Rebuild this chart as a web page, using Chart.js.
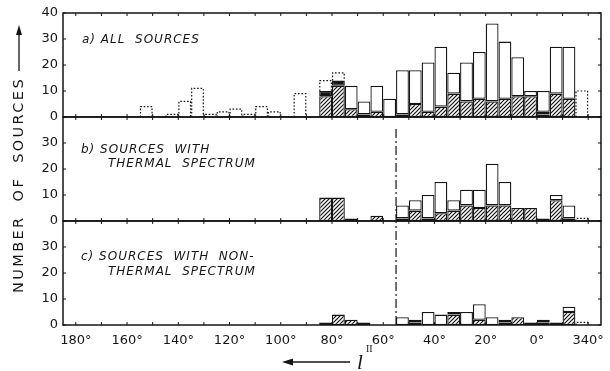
<!DOCTYPE html>
<html lang="en">
<head>
<meta charset="UTF-8">
<title>Number of sources against galactic longitude</title>
<script src="https://cdn.jsdelivr.net/npm/chart.js@4.4.1/dist/chart.umd.min.js"></script>
<style>
  html, body { margin: 0; padding: 0; background: #fff; }
</style>
</head>
<body>
<canvas id="chart" width="610" height="371"></canvas>
<script>
// 5 degree bins in galactic longitude, left edge of each bin (longitude falls to the right)
const binStarts = [185, 180, 175, 170, 165, 160, 155, 150, 145, 140, 135, 130, 125, 120,
                   115, 110, 105, 100, 95, 90, 85, 80, 75, 70, 65, 60, 55, 50, 45, 40,
                   35, 30, 25, 20, 15, 10, 5, 0, -5, -10, -15, -20];
// the two end values only pin the axis ends, they carry no label
const lonTicks = [185, 180, 160, 140, 120, 100, 80, 60, 40, 20, 0, -20, -25];
const lonTickLabels = ['', '180°', '160°', '140°', '120°', '100°', '80°', '60°', '40°', '20°', '0°', '340°', ''];
const countTicks = [0, 10, 20, 30, 40];

// a) all sources
const allTotal   = [0,0,0,0,0,0, 0,0,0,0,0,0, 0,0,0,0,0,0, 0,0,10,14,12,6, 12,7,18,18,21,27, 17,21,25,36,29,23, 10,10,27,27,0,0];
const allHatched = [0,0,0,0,0,0, 0,0,0,0,0,0, 0,0,0,0,0,0, 0,0,8,12,3,0,   2,0,0,5,2,4,      9,6,7,6,7,8,       8,1,9,7,0,0];
const allBlack   = [0,0,0,0,0,0, 0,0,0,0,0,0, 0,0,0,0,0,0, 0,0,2,2,0,1,    0,0,1,0,0,0,      0,0,0,0,0,0,       0,1,0,0,0,0];
const allDotted  = [0,0,0,0,0,0, 4,0,1,6,11,1, 2,3,1,4,2,0, 9,0,14,17,0,0, 0,0,0,0,0,0,      0,0,0,0,0,0,       0,0,0,0,10,0];

// b) sources with thermal spectrum
const thTotal    = [0,0,0,0,0,0, 0,0,0,0,0,0, 0,0,0,0,0,0, 0,0,9,9,1,0,    2,0,6,8,10,15,     8,12,12,22,15,5,   5,1,10,6,0,0];
const thHatched  = [0,0,0,0,0,0, 0,0,0,0,0,0, 0,0,0,0,0,0, 0,0,9,9,1,0,    2,0,1,4,1,3,       4,6,5,6,6,5,       5,0,8,1,0,0];
const thBlack    = [0,0,0,0,0,0, 0,0,0,0,0,0, 0,0,0,0,0,0, 0,0,0,0,0,0,    0,0,0,0,0,0,       0,0,0,0,0,0,       0,0,0,0,0,0];
const thDotted   = [0,0,0,0,0,0, 0,0,0,0,0,0, 0,0,0,0,0,0, 0,0,0,0,0,0,    0,0,0,0,0,0,       0,0,0,0,0,0,       0,0,0,0,1,0];

// c) sources with non-thermal spectrum
const ntTotal    = [0,0,0,0,0,0, 0,0,0,0,0,0, 0,0,0,0,0,0, 0,0,1,4,2,1,    0,0,3,2,5,4,       5,5,8,3,2,3,       1,2,1,7,0,0];
const ntHatched  = [0,0,0,0,0,0, 0,0,0,0,0,0, 0,0,0,0,0,0, 0,0,0,4,2,1,    0,0,0,0,0,0,       4,0,2,0,0,3,       0,1,1,5,0,0];
const ntBlack    = [0,0,0,0,0,0, 0,0,0,0,0,0, 0,0,0,0,0,0, 0,0,1,0,0,0,    0,0,0,1,0,0,       0,0,0,0,1,0,       1,0,0,0,0,0];
const ntDotted   = [0,0,0,0,0,0, 0,0,0,0,0,0, 0,0,0,0,0,0, 0,0,0,0,0,0,    0,0,0,0,0,0,       0,0,0,0,0,0,       0,0,0,0,1,0];

const ink = '#151515';
const canvas = document.getElementById('chart');
const ctx = canvas.getContext('2d');

// diagonal hatching "////"
const tile = document.createElement('canvas');
tile.width = 4; tile.height = 4;
const tg = tile.getContext('2d');
tg.fillStyle = '#fff';
tg.fillRect(0, 0, 4, 4);
tg.strokeStyle = '#111';
tg.lineWidth = 1.2;
tg.beginPath();
tg.moveTo(-1, 5); tg.lineTo(5, -1);
tg.moveTo(-1, 1); tg.lineTo(1, -1);
tg.moveTo(3, 5); tg.lineTo(5, 3);
tg.stroke();
const hatch = ctx.createPattern(tile, 'repeat');

const nz = arr => arr.map(v => (v > 0 ? v : null));

function panelSets(axis, total, hatched, black, dotted) {
  const open = total.map((t, i) => t - hatched[i] - black[i]);
  const extra = dotted.map((d, i) => Math.max(0, d - total[i]));
  const base = {
    xAxisID: 'x', yAxisID: axis, stack: 'bins', grouped: false,
    borderColor: ink, borderWidth: 1.3, borderSkipped: false,
    categoryPercentage: 1, barPercentage: 1, inflateAmount: 0
  };
  return [
    { ...base, label: axis + ' hatched', data: nz(hatched), backgroundColor: hatch },
    { ...base, label: axis + ' black', data: nz(black), backgroundColor: ink },
    { ...base, label: axis + ' open', data: nz(open), backgroundColor: '#fff' },
    { ...base, label: axis + ' dotted', data: nz(extra), backgroundColor: 'rgba(0,0,0,0)', borderWidth: 0, dotted: true }
  ];
}

const tickFont = { family: '"DejaVu Sans"', size: 13 };

function yScale(hideTop) {
  return {
    type: 'linear', position: 'left', stack: 'panels', stackWeight: 1, stacked: true,
    min: 0, max: 40,
    grid: { display: false, drawTicks: false }, border: { display: false },
    afterBuildTicks: s => { s.ticks = countTicks.map(v => ({ value: v })); },
    afterFit: s => { s.width = 63; },
    ticks: {
      autoSkip: false, padding: 5, color: ink, font: tickFont,
      callback: v => (hideTop && v === 40 ? '' : String(v))
    }
  };
}

const decor = {
  id: 'decor',
  afterDatasetsDraw(chart) {
    const c = chart.ctx;
    const area = chart.chartArea;
    const xt = chart.scales.xt;
    const panels = ['ya', 'yb', 'yc'].map(id => chart.scales[id]);
    c.save();

    // dotted outlines (uncertain counts)
    c.strokeStyle = ink;
    c.lineWidth = 1.2;
    c.setLineDash([1.6, 1.8]);
    chart.data.datasets.forEach((ds, i) => {
      if (!ds.dotted) return;
      chart.getDatasetMeta(i).data.forEach((el, j) => {
        if (!ds.data[j]) return;
        const p = el.getProps(['x', 'y', 'base', 'width'], true);
        const l = p.x - p.width / 2 + 0.6, r = p.x + p.width / 2 - 0.6;
        c.beginPath();
        c.moveTo(l, p.base); c.lineTo(l, p.y); c.lineTo(r, p.y); c.lineTo(r, p.base);
        c.stroke();
      });
    });
    c.setLineDash([]);

    // panel frames and inward ticks
    panels.forEach(s => {
      c.lineWidth = 1.5;
      c.strokeRect(area.left, s.top, area.right - area.left, s.bottom - s.top);
      c.beginPath();
      for (let v = -20; v <= 180; v += 10) {
        const x = xt.getPixelForValue(v);
        c.moveTo(x, s.top); c.lineTo(x, s.top + 3);
        c.moveTo(x, s.bottom); c.lineTo(x, s.bottom - 3);
      }
      countTicks.forEach(v => {
        const y = s.getPixelForValue(v);
        c.moveTo(area.left, y); c.lineTo(area.left + 3, y);
        c.moveTo(area.right, y); c.lineTo(area.right - 3, y);
      });
      c.lineWidth = 1;
      c.stroke();
    });

    // dash-dot marker at l = 55 deg through panels b and c
    const xd = xt.getPixelForValue(55);
    c.lineWidth = 1.2;
    c.setLineDash([9, 3, 2, 3]);
    c.beginPath();
    c.moveTo(xd, panels[1].top + 12);
    c.lineTo(xd, panels[2].bottom);
    c.stroke();
    c.setLineDash([]);

    // panel captions
    c.fillStyle = ink;
    c.font = 'italic 12px "DejaVu Sans"';
    c.letterSpacing = '1px';
    c.textBaseline = 'middle';
    c.textAlign = 'left';
    c.fillText('a) ALL  SOURCES', area.left + 19, panels[0].top + 27);
    c.fillText('b) SOURCES  WITH', area.left + 18, panels[1].top + 33);
    c.fillText('THERMAL  SPECTRUM', area.left + 45, panels[1].top + 47);
    c.fillText('c) SOURCES  WITH  NON-', area.left + 18, panels[2].top + 36);
    c.fillText('THERMAL  SPECTRUM', area.left + 45, panels[2].top + 51);

    // y axis title with arrow
    c.save();
    c.translate(19, 293);
    c.rotate(-Math.PI / 2);
    c.font = '14.5px "DejaVu Sans"';
    c.letterSpacing = '2.4px';
    c.fillText('NUMBER  OF  SOURCES', 0, 0);
    const tw = c.measureText('NUMBER  OF  SOURCES').width;
    c.lineWidth = 1.3;
    c.beginPath();
    c.moveTo(tw + 6, 0); c.lineTo(262, 0);
    c.stroke();
    c.beginPath();
    c.moveTo(268, 0); c.lineTo(258, -3); c.lineTo(258, 3); c.closePath();
    c.fill();
    c.restore();

    // x axis title: arrow and l^II
    c.lineWidth = 1.5;
    c.beginPath();
    c.moveTo(350, 362); c.lineTo(290, 362);
    c.stroke();
    c.beginPath();
    c.moveTo(282, 362); c.lineTo(293, 358.5); c.lineTo(293, 365.5); c.closePath();
    c.fill();
    c.letterSpacing = '0px';
    c.textBaseline = 'alphabetic';
    c.font = 'italic 21px "Liberation Serif"';
    c.fillText('l', 357, 369);
    c.font = '10px "Liberation Serif"';
    c.fillText('II', 366, 352);

    c.restore();
  }
};

new Chart(canvas, {
  type: 'bar',
  data: {
    labels: binStarts.map(String),
    datasets: [
      ...panelSets('ya', allTotal, allHatched, allBlack, allDotted),
      ...panelSets('yb', thTotal, thHatched, thBlack, thDotted),
      ...panelSets('yc', ntTotal, ntHatched, ntBlack, ntDotted)
    ]
  },
  options: {
    responsive: false,
    devicePixelRatio: 1,
    animation: false,
    layout: { padding: { top: 13, right: 9, bottom: 0, left: 0 } },
    plugins: { legend: { display: false }, tooltip: { enabled: false } },
    scales: {
      x: { type: 'category', display: false, stacked: true, offset: true },
      xt: {
        type: 'linear', position: 'bottom', min: -25, max: 185, reverse: true, offset: false,
        grid: { display: true, offset: false, drawOnChartArea: false, drawTicks: true, tickLength: 8, color: 'rgba(0,0,0,0)' },
        border: { display: false },
        afterBuildTicks: s => { s.ticks = lonTicks.map(v => ({ value: v })); },
        afterFit: s => { s.height = 46; },
        ticks: {
          autoSkip: false, maxRotation: 0, padding: 0, color: ink, font: tickFont,
          callback: v => lonTickLabels[lonTicks.indexOf(v)]
        }
      },
      // stacked axes are laid out bottom-up, so the lowest panel comes first
      yc: yScale(true),
      yb: yScale(true),
      ya: yScale(false)
    }
  },
  plugins: [decor]
});
</script>
</body>
</html>
